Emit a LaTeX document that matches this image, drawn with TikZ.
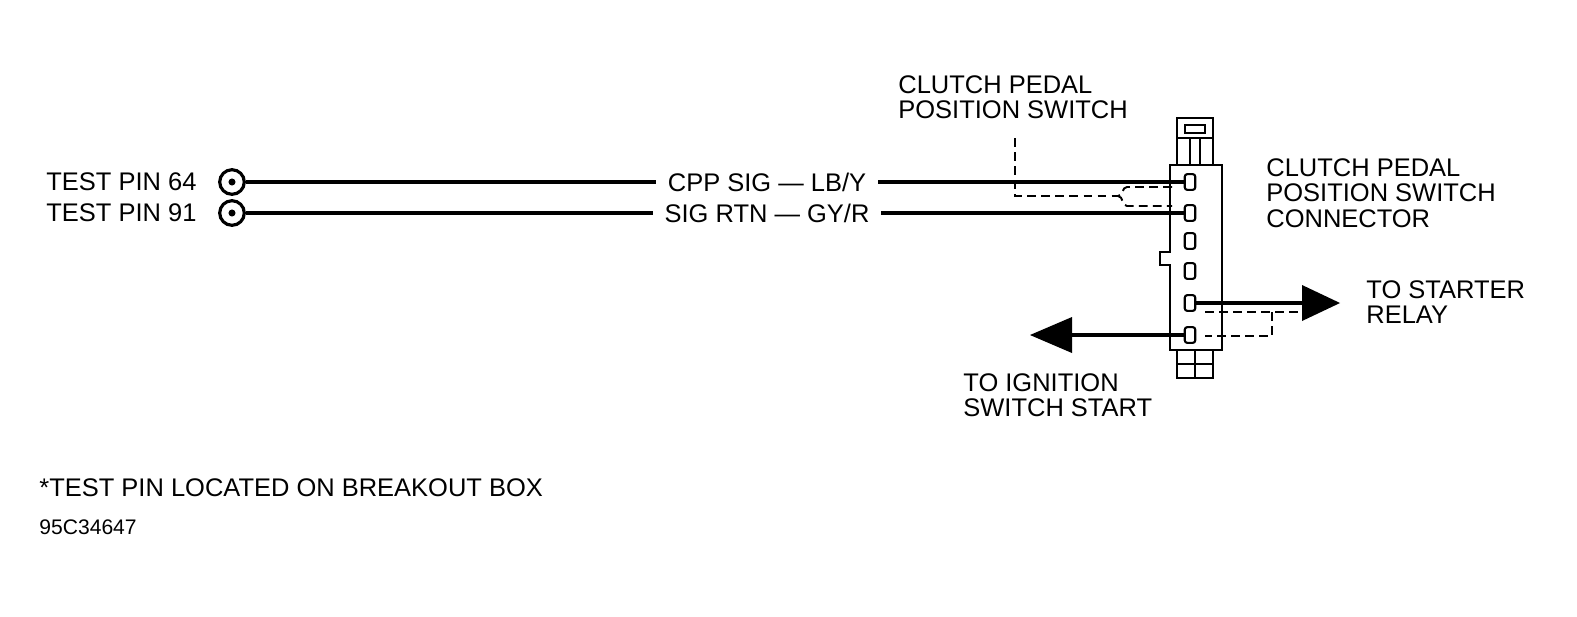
\documentclass[tikz,border=0pt]{standalone}
\usepackage{fontspec}
\setmainfont{Liberation Sans}

\begin{document}
\begin{tikzpicture}[x=0.02cm,y=-0.02cm,line width=1.6pt,
    lbl/.style={inner sep=0pt,font=\fontsize{14.5}{14.5}\selectfont,align=left},
    wire/.style={line width=1.8pt},
    dashwire/.style={line width=1.1pt,dash pattern=on 5pt off 3pt},
    tpin/.style={draw,circle,minimum size=14pt,inner sep=0pt,line width=1.8pt},
    pin/.style={draw,rounded corners=1.5pt,minimum width=6pt,minimum height=9pt,inner sep=0pt,line width=1.2pt}]
  \useasboundingbox (0,0) rectangle (1577,616);
  % test pins
  \node[lbl,anchor=west] (tp64) at (45,182) {TEST PIN 64};
  \node[lbl,anchor=west] (tp91) at (45,213) {TEST PIN 91};
  \node[tpin] (c64) at (232,182) {};
  \node[tpin] (c91) at (232,213) {};
  \fill (c64) circle (2pt) (c91) circle (2pt);
  % connector body
  \draw (1170,165) -- (1222,165) -- (1222,350) -- (1170,350) -- (1170,265)
        -- (1160,265) -- (1160,252) -- (1170,252) -- cycle;
  \draw (1177,118) rectangle (1213,165);
  \draw (1177,138) -- (1213,138) (1190,138) -- (1190,165) (1200,138) -- (1200,165);
  \draw (1185,125) rectangle (1205,133);
  \draw (1177,350) rectangle (1213,378) (1195,350) -- (1195,378) (1177,364) -- (1213,364);
  \foreach \i/\y in {1/182,2/213,3/241,4/271,5/303,6/335}
    \node[pin] (p\i) at (1190,\y) {};
  % wires
  \node[lbl] (cpp) at (767,182) {CPP SIG --- LB/Y};
  \node[lbl] (rtn) at (767,213) {SIG RTN --- GY/R};
  \draw[wire] (c64) -- ([xshift=-6pt]cpp.west);
  \draw[wire] (c91) -- ([xshift=-6pt]rtn.west);
  \draw[wire] ([xshift=6pt]cpp.east) -- (p1.west);
  \draw[wire] ([xshift=6pt]rtn.east) -- (p2.west);
  % switch callout
  \node[lbl,anchor=north west] (sw) at (897,74) {CLUTCH PEDAL\\POSITION SWITCH};
  \draw[dashwire] (1015,138) -- (1015,196) -- (1118,196);
  \draw[dashwire] (1172,187) -- (1127,187) to[out=180,in=0] (1118,196) to[out=0,in=180] (1127,206) -- (1172,206);
  \node[lbl,anchor=north west] (conn) at (1265,157) {CLUTCH PEDAL\\POSITION SWITCH\\CONNECTOR};
  % starter relay
  \coordinate (sr) at (1340,303);
  \draw[wire] (p5.east) -- (1310,303);
  \fill (sr) -- (1302,285) -- (1302,321) -- cycle;
  \draw[dashwire] (1205,312) -- (1310,312) (1272,312) -- (1272,336) -- (1205,336);
  \node[lbl,anchor=north west] (tsr) at (1365,279) {TO STARTER\\RELAY};
  % ignition
  \coordinate (ig) at (1030,335);
  \draw[wire] (p6.west) -- (1068,335);
  \fill (ig) -- (1072,317) -- (1072,353) -- cycle;
  \node[lbl,anchor=north west] (tis) at (962,372) {TO IGNITION\\SWITCH START};
  % notes
  \node[lbl,anchor=west] (note) at (38,488) {*TEST PIN LOCATED ON BREAKOUT BOX};
  \node[lbl,anchor=west,font=\fontsize{12}{13}\selectfont] (num) at (38,527) {95C34647};
\end{tikzpicture}
\end{document}
